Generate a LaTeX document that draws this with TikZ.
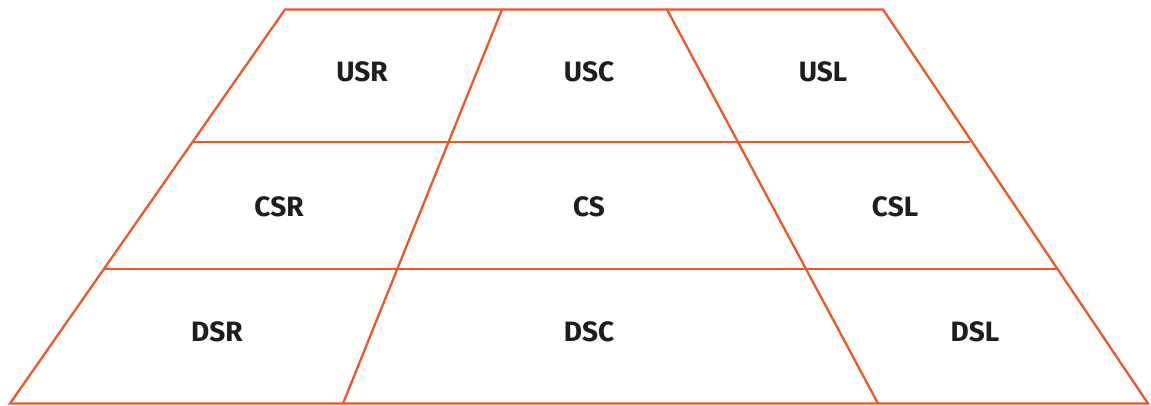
\documentclass[tikz,border=0pt]{standalone}
\usepackage{fontspec}
\setmainfont{Fira Sans}
\definecolor{edge}{RGB}{236,88,40}
\definecolor{txt}{RGB}{30,30,30}
\begin{document}
\begin{tikzpicture}[x=1pt,y=-1pt,
  ln/.style={draw=edge,line width=2.3pt,line join=miter},
  lbl/.style={text=txt,font=\fontsize{28}{30}\selectfont\bfseries,inner sep=0pt,anchor=center}]
\useasboundingbox (0,0) rectangle (1151,405);
\coordinate (tl) at (285,9.5);
\coordinate (tr) at (883,9.5);
\coordinate (bl) at (10,403.5);
\coordinate (br) at (1148,403.5);
\coordinate (ta) at (502,9.5);
\coordinate (ba) at (343,403.5);
\coordinate (tb) at (667,9.5);
\coordinate (bb) at (878,403.5);
\coordinate (h1l) at (193,142);
\coordinate (h1r) at (970,142);
\coordinate (h2l) at (105,269);
\coordinate (h2r) at (1057,269);
\draw[ln] (tl) -- (tr) -- (br) -- (bl) -- cycle;
\draw[ln] (ta) -- (ba);
\draw[ln] (tb) -- (bb);
\draw[ln] (h1l) -- (h1r);
\draw[ln] (h2l) -- (h2r);
\node[lbl] (usr) at (362,72) {USR};
\node[lbl] (usc) at (589,72) {USC};
\node[lbl] (usl) at (823,72) {USL};
\node[lbl] (csr) at (279,207) {CSR};
\node[lbl] (cs) at (589,207) {CS};
\node[lbl] (csl) at (895,207) {CSL};
\node[lbl] (dsr) at (217,332) {DSR};
\node[lbl] (dsc) at (589,332) {DSC};
\node[lbl] (dsl) at (975,332) {DSL};
\end{tikzpicture}
\end{document}
